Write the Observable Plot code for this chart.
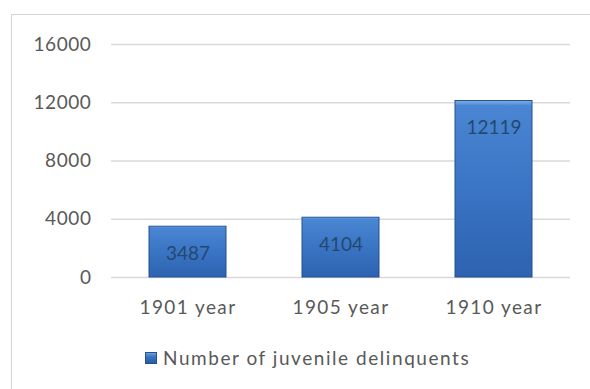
<!DOCTYPE html>
<html><head><meta charset="utf-8">
<script src="https://cdn.jsdelivr.net/npm/d3@7"></script>
<script src="https://cdn.jsdelivr.net/npm/@observablehq/plot@0.6"></script>
<style>
html,body{margin:0;padding:0;background:#fff;width:590px;height:389px;overflow:hidden;}
#frame{position:absolute;left:11px;top:14px;width:600px;height:400px;border-left:1px solid #d4d4d4;border-top:1px solid #d4d4d4;box-sizing:border-box;}
#chart{position:absolute;left:0;top:0;}
#legend{position:absolute;left:145px;top:346px;font-family:Lato,sans-serif;font-size:19px;color:#595959;display:flex;align-items:center;white-space:nowrap;}
#legend .sw{width:12px;height:12px;background:linear-gradient(#6d9fde,#3a72c0 40%,#2b5da6);border:1px solid #24518f;box-sizing:border-box;margin-right:6px;}
#legtext{letter-spacing:1.55px;}
</style></head>
<body>
<div id="frame"></div>
<div id="chart"></div>
<div id="legend"><span class="sw"></span><span id="legtext"></span></div>
<script>
const categories = ["1901 year", "1905 year", "1910 year"];
const values = [3487, 4104, 12119];
const yTicks = [0, 4000, 8000, 12000, 16000];
const seriesName = "Number of juvenile delinquents";

const data = categories.map((c, i) => ({cat: c, value: values[i]}));

const chart = Plot.plot({
  width: 590,
  height: 320,
  marginTop: 44,
  marginBottom: 43,
  marginLeft: 111,
  marginRight: 20,
  style: {fontFamily: "Lato, sans-serif", fontSize: "19px", color: "#595959", background: "transparent"},
  x: {domain: categories, paddingInner: 0.5, paddingOuter: 0.25, label: null, tickSize: 0, tickPadding: 23},
  y: {domain: [0, 16000], ticks: yTicks, label: null, tickSize: 0, tickPadding: 20, tickFormat: d => String(d)},
  marks: [
    Plot.ruleY(yTicks, {stroke: "#d9d9d9", strokeWidth: 1.5}),
    Plot.barY(data, {x: "cat", y: "value", fill: "url(#barGrad)", stroke: "#24518f", strokeWidth: 1}),
    Plot.text(data, {x: "cat", y: "value", text: d => String(d.value), dy: 27, fill: "#24496e", fontSize: 19})
  ]
});

const defs = d3.select(chart).insert("defs", ":first-child");
const g = defs.append("linearGradient").attr("id", "barGrad").attr("x1", 0).attr("y1", 0).attr("x2", 0).attr("y2", 1);
g.append("stop").attr("offset", "0%").attr("stop-color", "#7fb0ea");
g.append("stop").attr("offset", "3%").attr("stop-color", "#4a86d4");
g.append("stop").attr("offset", "50%").attr("stop-color", "#3a74c4");
g.append("stop").attr("offset", "100%").attr("stop-color", "#2d63b0");

// widen glyph spacing to match the reference's wider typeface
d3.select(chart).selectAll("[aria-label='x-axis tick label'] text").style("letter-spacing", "1.4px");
d3.select(chart).selectAll("[aria-label='y-axis tick label'] text").style("letter-spacing", "0.6px");

document.getElementById("chart").appendChild(chart);
document.getElementById("legtext").textContent = seriesName;
</script>
</body></html>
